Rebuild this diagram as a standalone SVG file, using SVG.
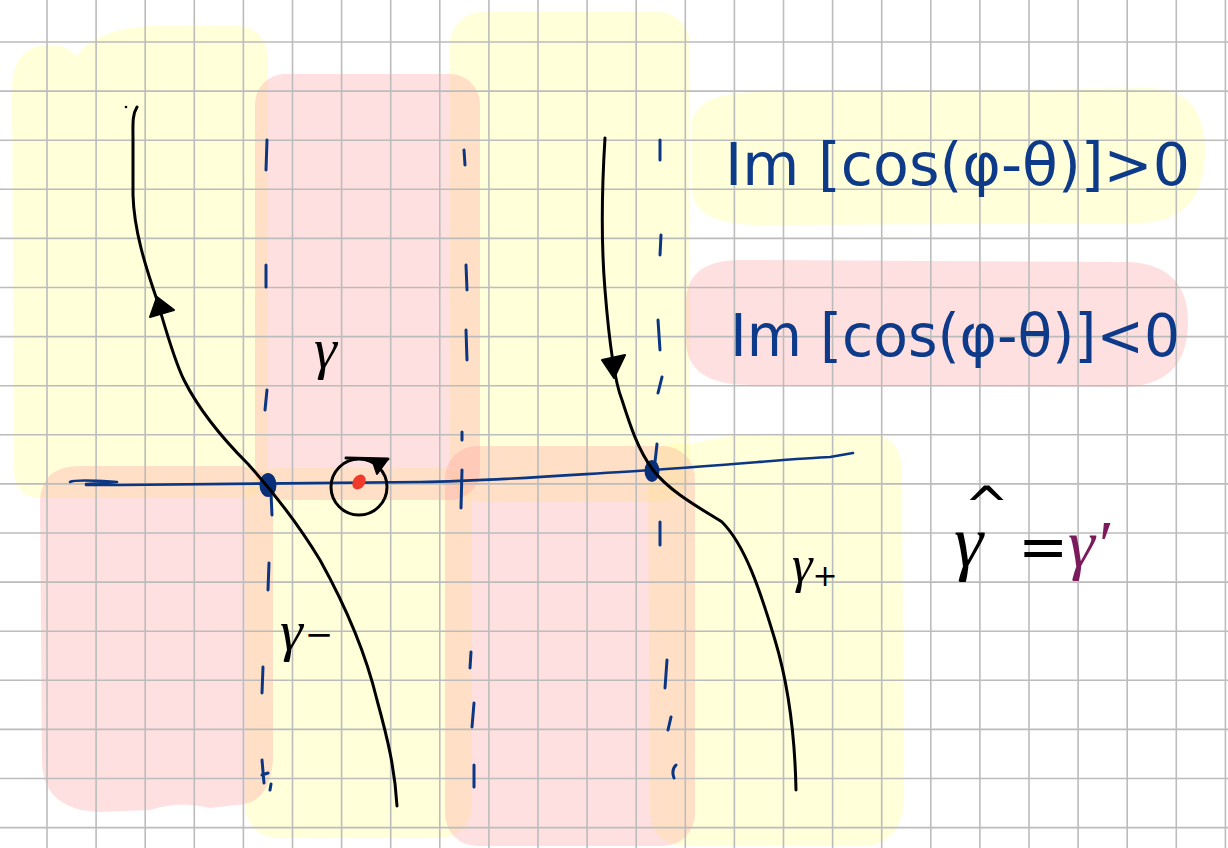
<svg xmlns="http://www.w3.org/2000/svg" width="1228" height="848" viewBox="0 0 1228 848">
<style>
.y{fill:#ffff99;fill-opacity:.36}
.p{fill:#ff9999;fill-opacity:.30}
.grid{stroke:#bcbcbc;stroke-width:1.6;fill:none}
.ink{stroke:#000;stroke-width:3;fill:none;stroke-linecap:round;stroke-linejoin:round}
.blue{stroke:#0b3683;stroke-width:3;fill:none;stroke-linecap:round;stroke-linejoin:round}
.ax{stroke:#0b3683;stroke-width:2.6;fill:none;stroke-linecap:round;stroke-linejoin:round}
.f{font-family:"DejaVu Sans","Liberation Sans",sans-serif}
.g{font-family:"Liberation Serif","DejaVu Serif",serif;font-style:italic}
.nav{fill:#0e3a8a}
</style>
<rect width="1228" height="848" fill="#fff"/>
<g id="highlights">
<path class="y" d="M12,90 Q12,45 50,45 Q68,45 76,56 Q98,28 150,26 L238,26 Q267,28 268,62 L268,470 Q266,498 238,498 L42,498 Q14,498 14,470 Z"/>
<rect class="y" x="450" y="12" width="240" height="490" rx="32"/>
<path class="y" d="M692,120 Q700,92 760,92 L1150,88 Q1205,90 1205,150 Q1205,222 1140,223 L760,225 Q694,225 692,190 Z"/>
<rect class="y" x="245" y="468" width="227" height="370" rx="32"/>
<path class="y" d="M648,470 Q650,440 690,444 Q740,430 800,434 L880,436 Q903,440 902,480 L904,800 Q902,846 860,846 L690,846 Q650,846 650,810 Z"/>
<rect class="p" x="255" y="74" width="225" height="426" rx="30"/>
<path class="p" d="M40,500 Q42,466 80,466 L240,466 Q273,468 273,500 L273,760 Q270,805 235,805 L210,808 Q180,800 150,810 L100,812 Q42,810 42,760 Z"/>
<rect class="p" x="445" y="446" width="250" height="400" rx="32"/>
<path class="p" d="M686,300 Q688,260 740,260 L1130,262 Q1188,266 1188,322 Q1188,387 1120,387 L750,385 Q686,385 686,340 Z"/>
</g>
<g id="grid">
<path class="grid" d="M47,0V848M96.1,0V848M145.2,0V848M194.3,0V848M243.4,0V848M292.5,0V848M341.6,0V848M390.7,0V848M439.8,0V848M488.9,0V848M538,0V848M587.1,0V848M636.2,0V848M685.3,0V848M734.4,0V848M783.5,0V848M832.6,0V848M881.7,0V848M930.8,0V848M979.9,0V848M1029,0V848M1078.1,0V848M1127.2,0V848M1176.3,0V848M1225.4,0V848M0,42H1228M0,91.1H1228M0,140.2H1228M0,189.3H1228M0,238.4H1228M0,287.5H1228M0,336.6H1228M0,385.7H1228M0,434.8H1228M0,483.9H1228M0,533H1228M0,582.1H1228M0,631.2H1228M0,680.3H1228M0,729.4H1228M0,778.5H1228M0,827.6H1228"/>
</g>
<g id="dashed-lines">
<path class="blue" d="M267,140L266,170M266,265L266,287M267,390L265,410M269,563L268,590M263,667L262,693M262,760L264,783M262,775L268,773M271,784L270,790"/>
<path class="blue" d="M464,150L465,165M466,265L467,290M466,330L467,360M462,432L462,440M462,470L461,508M471,652L470,668M474,703L472,727M474,765L474,787"/>
<path class="blue" d="M660,140L660,160M661,235L660,255M658,320L660,350M662,377L658,393M657,444L655,462M660,522L660,545M667,660L665,688M671,717L668,730M676,765Q671,770 674,778"/>
</g>
<g id="real-axis">
<path class="ax" d="M70,482C76,479 100,481 117,482L86,484M86,485L120,485C200,484 330,483 420,482C500,481 580,474 653,470C730,465 800,458 830,457L853,453"/>
<path class="blue" d="M271,493L272,515"/>
<ellipse cx="268" cy="485" rx="8.5" ry="12" fill="#0a2f7a"/>
<ellipse cx="652" cy="471" rx="7.5" ry="11" fill="#0a2f7a"/>
</g>
<g id="connectors">
<g id="gamma-curve">
<path class="ink" d="M137,107C132,115 133,125 133,140L133,195C134,230 145,265 157,300C166,330 174,360 184,380C198,408 222,438 248,464C275,494 300,527 320,560C345,605 365,650 377,700C388,740 395,770 397,806"/>
<polygon points="157,297 150,317 174,310" fill="#000" stroke="#000" stroke-width="2" stroke-linejoin="round"/>
<circle cx="126" cy="107" r="1.3" fill="#000"/>
</g>
<g id="gamma-plus-curve">
<path class="ink" d="M605,138C603,170 600,230 605,290C609,340 614,380 622,400C630,425 638,450 653,470C670,492 700,508 722,522C745,545 760,590 775,640C790,690 795,740 796,790"/>
<polygon points="602,360 625,355 614,378" fill="#000" stroke="#000" stroke-width="2" stroke-linejoin="round"/>
</g>
<g id="small-circle">
<circle class="ink" cx="359" cy="487" r="28" stroke-width="2.6"/>
<path class="ink" d="M346,458L388,459" stroke-width="2.6"/>
<polygon points="372,459 388,459 377,474" fill="#000" stroke="#000" stroke-width="2" stroke-linejoin="round"/>
<ellipse cx="359" cy="482" rx="6" ry="8" transform="rotate(35 359 482)" fill="#f03a2a"/>
</g>
</g>
<g id="label-gamma"><text class="g" x="314" y="368" font-size="58" fill="#000">γ</text></g>
<g id="label-gamma-minus"><text class="g" x="280" y="650" font-size="58" fill="#000">γ<tspan class="f" font-style="normal" font-size="34" dx="2" dy="-4">−</tspan></text></g>
<g id="label-gamma-plus"><text class="g" x="792" y="582" font-size="52" fill="#000">γ<tspan class="f" font-style="normal" font-size="30" dy="4">+</tspan></text></g>
<g id="label-im-pos"><text class="f nav" x="725" y="185" font-size="58" textLength="465" lengthAdjust="spacingAndGlyphs">Im [cos(φ-θ)]&gt;0</text></g>
<g id="label-im-neg"><text class="f nav" x="730" y="356" font-size="58" textLength="450" lengthAdjust="spacingAndGlyphs">Im [cos(φ-θ)]&lt;0</text></g>
<g id="label-hat">
<text class="f" x="964" y="524" font-size="54" fill="#000">^</text>
<text class="g" x="954" y="566" font-size="74" fill="#000">γ</text>
<text class="f" x="1018" y="567" font-size="60" fill="#000">=</text>
<text class="g" x="1068" y="567" font-size="68" fill="#7b1a5c">γ′</text>
</g>
</svg>
